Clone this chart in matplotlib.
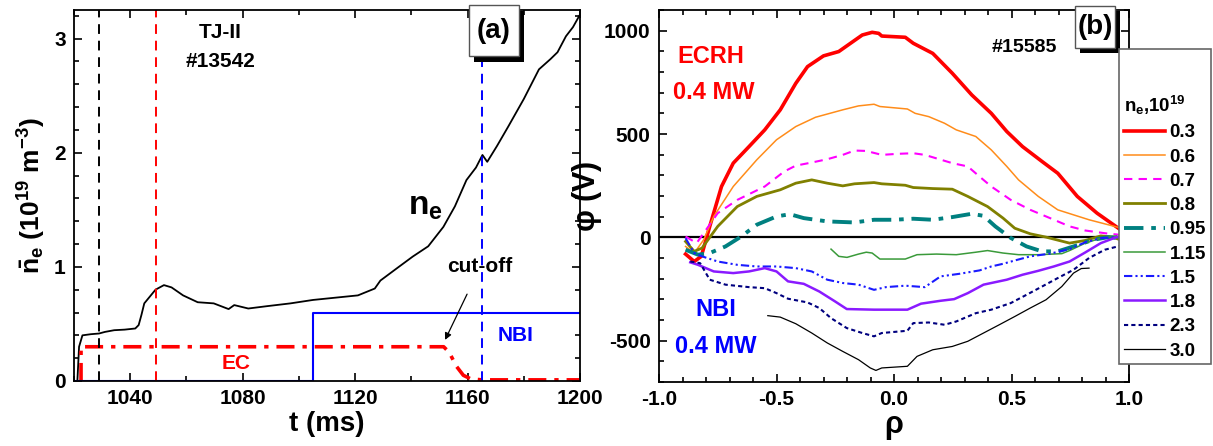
import matplotlib
matplotlib.use("Agg")
import matplotlib.pyplot as plt
from matplotlib.ticker import MultipleLocator, FormatStrFormatter
from matplotlib.patches import Rectangle

plt.rcParams['font.family'] = ['Liberation Sans', 'DejaVu Sans']
plt.rcParams['font.weight'] = 'bold'
plt.rcParams['axes.unicode_minus'] = False
plt.rcParams['mathtext.fontset'] = 'custom'
plt.rcParams['mathtext.rm'] = 'Liberation Sans:bold'
plt.rcParams['mathtext.it'] = 'Liberation Sans:bold'
plt.rcParams['mathtext.bf'] = 'Liberation Sans:bold'

# ---- panel (a): line-averaged density and heating waveforms, shot #13542 ----
t_ne = [1021.2, 1021.8, 1023, 1026, 1028.9, 1031, 1034.3, 1038, 1041.8, 1043, 1044, 1045,
        1047, 1049, 1052, 1054.7, 1058.8, 1064, 1069.7, 1075, 1077, 1082, 1088.8, 1097,
        1105, 1113, 1121, 1127, 1129, 1135, 1140.5, 1146, 1151.4, 1155.5, 1159.6, 1163,
        1165.3, 1167, 1170.5, 1174.5, 1180, 1185.4, 1189.5, 1192, 1195, 1197.5, 1200]
ne = [0.0, 0.30, 0.40, 0.41, 0.416, 0.43, 0.445, 0.45, 0.46, 0.49, 0.58, 0.68,
      0.74, 0.80, 0.84, 0.82, 0.75, 0.69, 0.68, 0.63, 0.665, 0.635, 0.656, 0.68,
      0.71, 0.73, 0.75, 0.81, 0.88, 0.99, 1.09, 1.18, 1.35, 1.53, 1.76, 1.87,
      1.98, 1.92, 2.06, 2.23, 2.47, 2.73, 2.82, 2.88, 3.02, 3.10, 3.21]

t_ec = [1022.5, 1022.5, 1024, 1151.5, 1153.5, 1156, 1158.5, 1161, 1165, 1200]
p_ec = [0.0, 0.30, 0.30, 0.30, 0.25, 0.13, 0.05, 0.02, 0.01, 0.01]

t_nbi = [1020, 1105, 1105, 1200]
p_nbi = [0.0, 0.0, 0.60, 0.60]

t_marks = [1029, 1049, 1165]
mark_colors = ['black', 'red', 'blue']

# ---- panel (b): plasma potential profiles, shot #15585 ----
dens_labels = ['0.3', '0.6', '0.7', '0.8', '0.95', '1.15', '1.5', '1.8', '2.3', '3.0']

rho_03 = [-0.887, -0.85, -0.82, -0.784, -0.734, -0.684, -0.617, -0.55, -0.484, -0.418, -0.368,
          -0.30, -0.235, -0.185, -0.135, -0.093, -0.065, -0.052, 0.048, 0.082, 0.165, 0.248,
          0.331, 0.414, 0.48, 0.547, 0.63, 0.697, 0.78, 0.864, 0.955]
phi_03 = [-81, -117, -92, 53, 246, 359, 439, 520, 617, 745, 826,
          878, 899, 939, 979, 992, 987, 974, 968, 939, 890, 794,
          689, 600, 512, 439, 367, 310, 198, 117, 44]

rho_06 = [-0.887, -0.85, -0.81, -0.767, -0.684, -0.584, -0.50, -0.418, -0.334, -0.218, -0.151,
          -0.085, -0.06, 0.057, 0.09, 0.148, 0.215, 0.265, 0.348, 0.414, 0.48, 0.53, 0.614,
          0.697, 0.83, 0.955]
phi_06 = [-44, -76, -12, 101, 246, 375, 472, 536, 581, 617, 636,
          644, 633, 621, 600, 584, 552, 520, 488, 423, 343, 278, 198,
          133, 85, 48]

rho_07 = [-0.887, -0.84, -0.81, -0.75, -0.667, -0.55, -0.468, -0.418, -0.35, -0.284, -0.218,
          -0.168, -0.118, -0.052, 0.015, 0.082, 0.131, 0.248, 0.314, 0.364, 0.414, 0.497,
          0.58, 0.664, 0.747, 0.814, 0.897, 0.963]
phi_07 = [4, -28, 20, 117, 181, 246, 318, 347, 362, 378, 399,
          420, 418, 399, 404, 407, 399, 359, 343, 294, 246, 181,
          133, 93, 53, 33, 20, 12]

rho_08 = [-0.887, -0.85, -0.817, -0.75, -0.667, -0.584, -0.484, -0.418, -0.35, -0.284, -0.218,
          -0.168, -0.085, -0.052, 0.048, 0.082, 0.165, 0.248, 0.314, 0.398, 0.464, 0.514,
          0.58, 0.647, 0.747, 0.814, 0.88, 0.93, 0.963]
phi_08 = [-20, -68, -52, 53, 149, 198, 230, 262, 278, 262, 249,
          259, 265, 259, 252, 241, 236, 233, 198, 149, 93, 44,
          17, 1, -28, -15, 7, 1, -12]

rho_095 = [-0.887, -0.834, -0.784, -0.717, -0.65, -0.584, -0.50, -0.443, -0.384, -0.284, -0.168,
           -0.085, 0.0, 0.082, 0.165, 0.248, 0.331, 0.381, 0.431, 0.497, 0.564, 0.63,
           0.697, 0.764, 0.847, 0.913, 0.963]
phi_095 = [-60, -84, -76, -44, 4, 61, 101, 112, 93, 77, 72,
           85, 85, 90, 85, 98, 114, 104, 53, -3, -44, -68,
           -68, -44, -12, 1, -4]

rho_115 = [-0.268, -0.235, -0.20, -0.151, -0.118, -0.093, -0.06, 0.048, 0.098, 0.181, 0.265,
           0.348, 0.398, 0.464, 0.53, 0.614, 0.714, 0.747, 0.814, 0.88, 0.947]
phi_115 = [-57, -92, -97, -81, -72, -76, -105, -105, -84, -81, -84,
           -72, -64, -76, -84, -84, -79, -64, -28, -4, 7]

rho_15 = [-0.887, -0.85, -0.817, -0.75, -0.667, -0.584, -0.50, -0.418, -0.35, -0.284, -0.218,
          -0.151, -0.085, -0.035, 0.048, 0.131, 0.198, 0.281, 0.364, 0.414, 0.464, 0.514,
          0.58, 0.664, 0.747, 0.814, 0.88, 0.947, 0.997]
phi_15 = [-4, -76, -92, -117, -133, -141, -141, -149, -165, -205, -221,
          -229, -254, -241, -234, -241, -189, -176, -160, -141, -128, -112,
          -92, -79, -57, -24, -4, 1, -4]

rho_18 = [-0.867, -0.834, -0.767, -0.684, -0.617, -0.55, -0.50, -0.451, -0.384, -0.318, -0.251,
          -0.201, -0.085, 0.057, 0.115, 0.198, 0.256, 0.314, 0.381, 0.48, 0.547, 0.614,
          0.68, 0.747, 0.814, 0.88, 0.947, 0.98]
phi_18 = [-121, -133, -165, -173, -165, -149, -165, -213, -225, -262, -310,
          -347, -350, -350, -321, -307, -299, -270, -229, -205, -181, -162,
          -141, -117, -73, -28, 1, 4]

rho_23 = [-0.867, -0.825, -0.784, -0.717, -0.617, -0.55, -0.50, -0.451, -0.368, -0.318, -0.268,
          -0.201, -0.135, -0.085, -0.052, 0.057, 0.082, 0.148, 0.215, 0.265, 0.348, 0.414,
          0.497, 0.564, 0.63, 0.697, 0.764, 0.83, 0.897, 0.963]
phi_23 = [-117, -125, -205, -229, -241, -246, -270, -297, -315, -342, -391,
          -439, -463, -479, -463, -452, -415, -412, -423, -407, -367, -350,
          -318, -278, -238, -197, -157, -100, -60, -41]

rho_30 = [-0.537, -0.484, -0.418, -0.35, -0.284, -0.218, -0.151, -0.101, -0.077, -0.052, 0.057,
          0.098, 0.165, 0.248, 0.314, 0.381, 0.448, 0.514, 0.58, 0.647, 0.714, 0.764,
          0.797, 0.83]
phi_30 = [-379, -386, -418, -463, -511, -552, -592, -632, -644, -632, -624,
          -576, -544, -528, -503, -463, -423, -383, -342, -302, -238, -173,
          -151, -149]

profiles = [(rho_03, phi_03), (rho_06, phi_06), (rho_07, phi_07), (rho_08, phi_08),
            (rho_095, phi_095), (rho_115, phi_115), (rho_15, phi_15), (rho_18, phi_18),
            (rho_23, phi_23), (rho_30, phi_30)]
styles = [
    dict(color='#ff0000', lw=2.6, ls='-'),
    dict(color='#ff8c1a', lw=1.1, ls='-'),
    dict(color='#ff00ff', lw=1.5, ls=(0, (4, 3))),
    dict(color='#808000', lw=2.0, ls='-'),
    dict(color='#008080', lw=2.8, ls=(0, (5, 2, 1.2, 2))),
    dict(color='#3a9a3a', lw=1.1, ls='-'),
    dict(color='#1a1aff', lw=1.5, ls=(0, (4, 1.5, 1, 1.5, 1, 1.5))),
    dict(color='#8a1aff', lw=1.8, ls='-'),
    dict(color='#00007f', lw=1.5, ls=(0, (2, 1.5))),
    dict(color='black', lw=0.9, ls='-'),
]

W, H = 1213, 446
fig = plt.figure(figsize=(W / 100, H / 100), dpi=100)


def px_box(x0, y0, x1, y1):
    # pixel box (origin top-left) -> figure fraction rect
    return [x0 / W, 1 - y1 / H, (x1 - x0) / W, (y1 - y0) / H]


def style_axes(ax):
    for s in ax.spines.values():
        s.set_linewidth(1.3)
    ax.tick_params(which='both', direction='in', top=True, right=True, width=1.2)
    ax.tick_params(which='major', length=6, labelsize=15, pad=6)
    ax.tick_params(which='minor', length=3.5)
    for lab in ax.get_xticklabels() + ax.get_yticklabels():
        lab.set_fontweight('bold')


def panel_tag(label, x0, y0, x1, y1, dx=5, dy=5):
    r = px_box(x0 + dx, y0 + dy, x1 + dx, y1 + dy)
    fig.patches.append(Rectangle((r[0], r[1]), r[2], r[3], transform=fig.transFigure,
                                 facecolor='black', edgecolor='none', zorder=10))
    r = px_box(x0, y0, x1, y1)
    fig.patches.append(Rectangle((r[0], r[1]), r[2], r[3], transform=fig.transFigure,
                                 facecolor='white', edgecolor='#555555', lw=1.0, zorder=11))
    fig.text(r[0] + r[2] / 2, r[1] + r[3] / 2, label, ha='center', va='center',
             fontsize=20, fontweight='bold', zorder=12)


# ---- panel (a) ----
ax1 = fig.add_axes(px_box(74, 10, 580, 381))
ax1.plot(t_ne, ne, color='black', lw=1.3)
ax1.plot(t_ec, p_ec, color='red', lw=2.6, ls=(0, (5, 2.2, 1.2, 2.2)))
ax1.plot(t_nbi, p_nbi, color='blue', lw=1.5)
for tm, c in zip(t_marks, mark_colors):
    ax1.axvline(tm, color=c, lw=1.4, ls=(0, (5, 3.5)))
ax1.set_xlim(1020, 1200)
ax1.set_ylim(0, 3.25)
ax1.xaxis.set_major_locator(MultipleLocator(40))
ax1.xaxis.set_minor_locator(MultipleLocator(20))
ax1.yaxis.set_major_locator(MultipleLocator(1))
ax1.yaxis.set_minor_locator(MultipleLocator(0.2))
style_axes(ax1)
ax1.set_xlabel('t (ms)', fontsize=20, fontweight='bold', labelpad=2)
ax1.set_ylabel(r'$\bar{n}_e$ (10$^{19}$ m$^{-3}$)', fontsize=19, fontweight='bold', labelpad=4)

ax1.text(1072, 3.05, 'TJ-II', ha='center', va='center', fontsize=15, fontweight='bold')
ax1.text(1072, 2.80, '#13542', ha='center', va='center', fontsize=15, fontweight='bold')
ax1.text(1145, 1.53, r'$n_e$', ha='center', va='center', fontsize=24, fontweight='bold')
ax1.text(1077.5, 0.15, 'EC', ha='center', va='center', fontsize=15, fontweight='bold', color='red')
ax1.text(1177, 0.40, 'NBI', ha='center', va='center', fontsize=15, fontweight='bold', color='blue')
ax1.annotate('cut-off', xy=(1152, 0.36), xytext=(1164.5, 1.0), ha='center', va='center',
             fontsize=15, fontweight='bold',
             arrowprops=dict(arrowstyle='-|>', color='black', lw=0.9, mutation_scale=10,
                             shrinkA=12, shrinkB=0))
panel_tag('(a)', 469, 5, 519, 56, dx=5, dy=6)

# ---- panel (b) ----
ax2 = fig.add_axes(px_box(659, 10, 1129, 382))
handles = []
for (rho, phi), st, lab in zip(profiles, styles, dens_labels):
    h, = ax2.plot(rho, phi, label=lab, **st)
    handles.append(h)
ax2.axhline(0, color='black', lw=1.6, zorder=1)
ax2.set_xlim(-1.0, 1.0)
ax2.set_ylim(-700, 1100)
ax2.xaxis.set_major_locator(MultipleLocator(0.5))
ax2.xaxis.set_minor_locator(MultipleLocator(0.1))
ax2.xaxis.set_major_formatter(FormatStrFormatter('%.1f'))
ax2.yaxis.set_major_locator(MultipleLocator(500))
ax2.yaxis.set_minor_locator(MultipleLocator(100))
style_axes(ax2)
ax2.set_xlabel(r'$\rho$', fontsize=22, fontweight='bold', labelpad=2)
ax2.set_ylabel(r'$\varphi$ (V)', fontsize=22, fontweight='bold', labelpad=0)

ax2.text(-0.78, 874, 'ECRH', ha='center', va='center', fontsize=17, fontweight='bold', color='red')
ax2.text(-0.767, 700, '0.4 MW', ha='center', va='center', fontsize=17, fontweight='bold', color='red')
ax2.text(-0.76, -350, 'NBI', ha='center', va='center', fontsize=17, fontweight='bold', color='blue')
ax2.text(-0.76, -527, '0.4 MW', ha='center', va='center', fontsize=17, fontweight='bold', color='blue')
ax2.text(0.553, 920, '#15585', ha='center', va='center', fontsize=14, fontweight='bold')

leg = fig.legend(handles=handles, loc='upper left', bbox_to_anchor=(1119 / W, 1 - 49 / H),
                 bbox_transform=fig.transFigure, borderaxespad=0, fancybox=False,
                 edgecolor='#666666', framealpha=1, title='\n\n' + r'$n_e$,10$^{19}$',
                 prop=dict(size=13.5, weight='bold'),
                 title_fontproperties=dict(size=13.5, weight='bold'),
                 handlelength=2.2, handletextpad=0.25, labelspacing=0.38, borderpad=0.25)
leg.get_frame().set_linewidth(1.2)
leg._legend_box.align = 'left'
leg.set_zorder(20)
panel_tag('(b)', 1075, 6, 1115, 48, dx=5, dy=5)

fig.savefig('out.png', dpi=100)
